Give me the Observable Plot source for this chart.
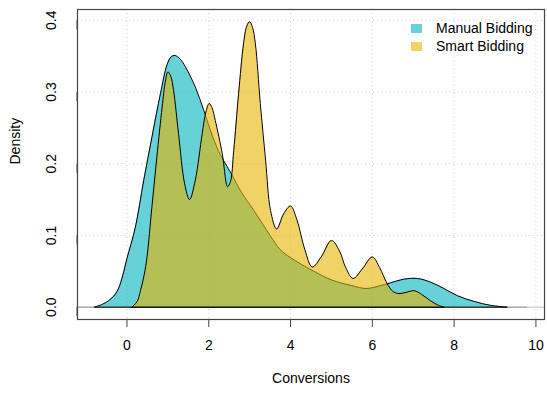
<!DOCTYPE html>
<html>
<head>
<meta charset="utf-8">
<script src="https://cdn.jsdelivr.net/npm/d3@7"></script>
<script src="https://cdn.jsdelivr.net/npm/@observablehq/plot@0.6"></script>
<style>
  html, body { margin: 0; padding: 0; background: #fff; }
  #wrap { position: relative; width: 547px; height: 396px; font-family: "Liberation Sans", Arial, sans-serif; }
  #legend { position: absolute; left: 411px; top: 19px; font-size: 14px; color: #000; }
  .item { display: flex; align-items: center; height: 18px; }
  .sw { width: 11px; height: 9px; margin-right: 14px; }
</style>
</head>
<body>
<div id="wrap"></div>
<script>
// Series names and legend
const seriesNames = ["Manual Bidding", "Smart Bidding"];
const seriesColors = ["rgb(0,178,188)", "rgb(230,180,0)"];

// Manual Bidding density curve
const manualConversions = [-0.79, -0.6, -0.45, -0.3, -0.2, -0.1, 0.0, 0.2, 0.41, 0.61, 0.82, 0.98, 1.08, 1.17, 1.3, 1.43, 1.67, 1.88, 2.1, 2.28, 2.45, 2.57, 2.8, 3.1, 3.5, 3.75, 4.0, 4.57, 5.0, 5.5, 5.85, 6.2, 6.45, 6.77, 7.1, 7.42, 7.75, 8.08, 8.49, 8.89, 9.3];
const manualDensity     = [0.0, 0.004, 0.009, 0.017, 0.027, 0.045, 0.068, 0.11, 0.177, 0.237, 0.298, 0.338, 0.349, 0.351, 0.346, 0.335, 0.307, 0.274, 0.237, 0.213, 0.196, 0.184, 0.160, 0.135, 0.100, 0.080, 0.069, 0.050, 0.038, 0.030, 0.026, 0.030, 0.034, 0.039, 0.040, 0.035, 0.026, 0.016, 0.008, 0.0025, 0.0];

// Smart Bidding density curve
const smartConversions = [0.12, 0.25, 0.33, 0.42, 0.49, 0.61, 0.73, 0.86, 0.94, 1.0, 1.07, 1.14, 1.26, 1.41, 1.53, 1.67, 1.84, 1.93, 2.01, 2.08, 2.16, 2.33, 2.46, 2.53, 2.61, 2.73, 2.85, 2.93, 3.0, 3.07, 3.14, 3.26, 3.39, 3.51, 3.66, 3.83, 4.0, 4.16, 4.35, 4.53, 4.75, 5.0, 5.2, 5.35, 5.53, 5.75, 6.0, 6.18, 6.36, 6.5, 6.65, 6.85, 7.02, 7.2, 7.42, 7.6, 7.75];
const smartDensity     = [0.0, 0.008, 0.023, 0.045, 0.07, 0.14, 0.209, 0.279, 0.315, 0.328, 0.322, 0.302, 0.242, 0.172, 0.150, 0.177, 0.242, 0.272, 0.284, 0.278, 0.26, 0.214, 0.168, 0.175, 0.218, 0.298, 0.367, 0.392, 0.398, 0.390, 0.367, 0.284, 0.205, 0.135, 0.109, 0.130, 0.141, 0.121, 0.080, 0.056, 0.070, 0.093, 0.078, 0.055, 0.040, 0.053, 0.070, 0.055, 0.033, 0.022, 0.019, 0.021, 0.023, 0.018, 0.009, 0.003, 0.0];

// Axis ticks
const xTicks = [0, 2, 4, 6, 8, 10];
const yTicks = [0.0, 0.1, 0.2, 0.3, 0.4];
const xTitle = "Conversions";
const yTitle = "Density";
const zeroLineEnd = 9.8;

const manual = manualConversions.map((x, i) => ({x, y: manualDensity[i]}));
const smart = smartConversions.map((x, i) => ({x, y: smartDensity[i]}));

const curve = "catmull-rom";
const font = "Liberation Sans, Arial, sans-serif";

const chart = Plot.plot({
  width: 547,
  height: 396,
  marginLeft: 77,
  marginRight: 3,
  marginTop: 9,
  marginBottom: 77,
  style: {fontFamily: font, fontSize: "14px", color: "#000", background: "#fff"},
  x: {domain: [-1.21, 10.21]},
  y: {domain: [-0.0172, 0.415]},
  marks: [
    Plot.ruleX(xTicks, {stroke: "#cfcfcf", strokeDasharray: "1,3"}),
    Plot.ruleY(yTicks, {stroke: "#cfcfcf", strokeDasharray: "1,3"}),
    Plot.ruleY([0], {stroke: "#c8c8c8"}),
    Plot.ruleY([0], {x1: -1.21, x2: zeroLineEnd, stroke: "#9a9a9a"}),
    Plot.areaY(manual, {x: "x", y: "y", curve, fill: seriesColors[0], fillOpacity: 0.6}),
    Plot.lineY(manual, {x: "x", y: "y", curve, stroke: "#000", strokeWidth: 1}),
    Plot.ruleY([0], {x1: d3.min(manualConversions), x2: d3.max(manualConversions), stroke: "#000", strokeWidth: 1}),
    Plot.areaY(smart, {x: "x", y: "y", curve, fill: seriesColors[1], fillOpacity: 0.6}),
    Plot.lineY(smart, {x: "x", y: "y", curve, stroke: "#000", strokeWidth: 1}),
    Plot.ruleY([0], {x1: d3.min(smartConversions), x2: d3.max(smartConversions), stroke: "#000", strokeWidth: 1}),
    Plot.frame({stroke: "#444", strokeWidth: 1.2}),
    Plot.axisX(xTicks, {tickSize: 8, tickPadding: 13, fontSize: 14, label: null, stroke: "#444", fill: "#000"}),
    Plot.axisY(yTicks, {tickSize: 9, tickPadding: 17, rotate: -90, textAnchor: "middle", fontSize: 14, label: null, tickFormat: d3.format(".1f"), stroke: "#444", fill: "#000"}),
    Plot.text([xTitle], {frameAnchor: "bottom", dy: 63, text: d => d, fontSize: 14, fill: "#000"}),
    Plot.text([yTitle], {frameAnchor: "left", dx: -62, rotate: -90, text: d => d, fontSize: 14, fill: "#000"})
  ]
});

const wrap = document.getElementById("wrap");
wrap.appendChild(chart);

const legend = document.createElement("div");
legend.id = "legend";
seriesNames.forEach((name, i) => {
  const item = document.createElement("div");
  item.className = "item";
  const sw = document.createElement("span");
  sw.className = "sw";
  sw.style.background = seriesColors[i];
  sw.style.opacity = 0.6;
  const t = document.createElement("span");
  t.textContent = name;
  item.appendChild(sw);
  item.appendChild(t);
  legend.appendChild(item);
});
wrap.appendChild(legend);
</script>
</body>
</html>
